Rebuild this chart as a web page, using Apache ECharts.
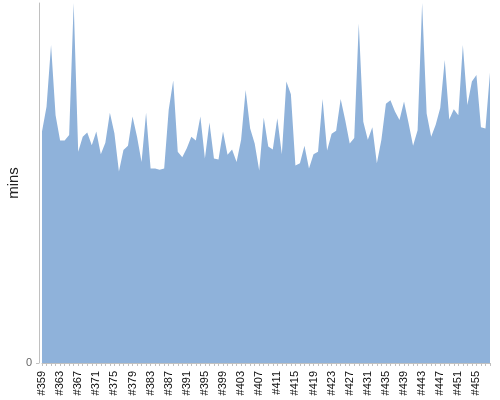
<!DOCTYPE html>
<html>
<head>
<meta charset="utf-8">
<script src="https://cdn.jsdelivr.net/npm/echarts@6/dist/echarts.min.js"></script>
<style>html,body{margin:0;padding:0;background:#fff}#c{width:500px;height:400px}</style>
</head>
<body>
<div id="c"></div>
<script>
const firstBuild = 359;
const buildCount = 100;
const categories = [];
for (let i = 0; i < buildCount; i++) categories.push('#' + (firstBuild + i));

const minutes = [
  38.6, 42.7, 53.0, 41.3, 37.1, 37.1, 38.0, 60.0, 35.2, 37.7,
  38.4, 36.3, 38.6, 34.8, 36.7, 41.7, 38.3, 31.9, 35.5, 36.2,
  41.1, 37.7, 33.5, 41.7, 32.4, 32.4, 32.2, 32.4, 42.2, 47.1,
  35.2, 34.3, 35.8, 37.7, 37.1, 41.1, 34.1, 40.1, 34.1, 33.9,
  38.6, 34.7, 35.6, 33.5, 37.2, 45.5, 39.1, 36.6, 32.1, 40.9,
  36.1, 35.6, 40.8, 34.8, 46.9, 44.8, 32.9, 33.3, 36.2, 32.4,
  34.8, 35.2, 44.0, 35.4, 38.2, 38.7, 44.0, 40.5, 36.6, 37.5,
  56.6, 40.2, 37.2, 39.3, 33.3, 37.2, 43.2, 43.8, 41.9, 40.5,
  43.6, 40.0, 36.2, 38.8, 60.0, 41.6, 37.7, 39.7, 42.5, 50.5,
  40.6, 42.3, 41.3, 53.0, 43.0, 46.9, 48.0, 39.3, 39.1, 48.4
];
const yTickLabels = [0];
const yAxisName = 'mins';

const chart = echarts.init(document.getElementById('c'), null, {renderer: 'canvas'});
chart.setOption({
  animation: false,
  grid: {left: 42, right: 10, top: 3, bottom: 37, containLabel: false, outerBoundsMode: 'none'},
  xAxis: {
    type: 'category',
    data: categories,
    boundaryGap: false,
    offset: 5,
    axisLine: {show: true, lineStyle: {color: '#c0c0c0', width: 1}},
    axisTick: {show: true, interval: 0, length: 3, lineStyle: {color: '#c0c0c0'}},
    axisLabel: {
      interval: 3, rotate: 90, margin: 3,
      fontFamily: 'Liberation Sans', fontSize: 11, color: '#111'
    },
    splitLine: {show: false}
  },
  yAxis: {
    type: 'value',
    min: 0, max: 60,
    offset: 3,
    name: yAxisName,
    nameLocation: 'middle',
    nameGap: 18,
    nameMoveOverlap: false,
    nameRotate: 90,
    nameTextStyle: {fontFamily: 'Liberation Sans', fontSize: 15, color: '#222'},
    axisLine: {show: true, lineStyle: {color: '#c0c0c0', width: 1}},
    axisTick: {show: true, length: 3, customValues: yTickLabels, lineStyle: {color: '#c0c0c0'}},
    axisLabel: {
      customValues: yTickLabels, margin: 7,
      fontFamily: 'Liberation Sans', fontSize: 11, color: '#666'
    },
    splitLine: {show: false}
  },
  series: [{
    type: 'line',
    data: minutes,
    showSymbol: false,
    symbol: 'none',
    lineStyle: {width: 0, color: '#8fb2da'},
    areaStyle: {color: '#8fb2da', opacity: 1},
    itemStyle: {color: '#8fb2da'}
  }]
});
</script>
</body>
</html>
